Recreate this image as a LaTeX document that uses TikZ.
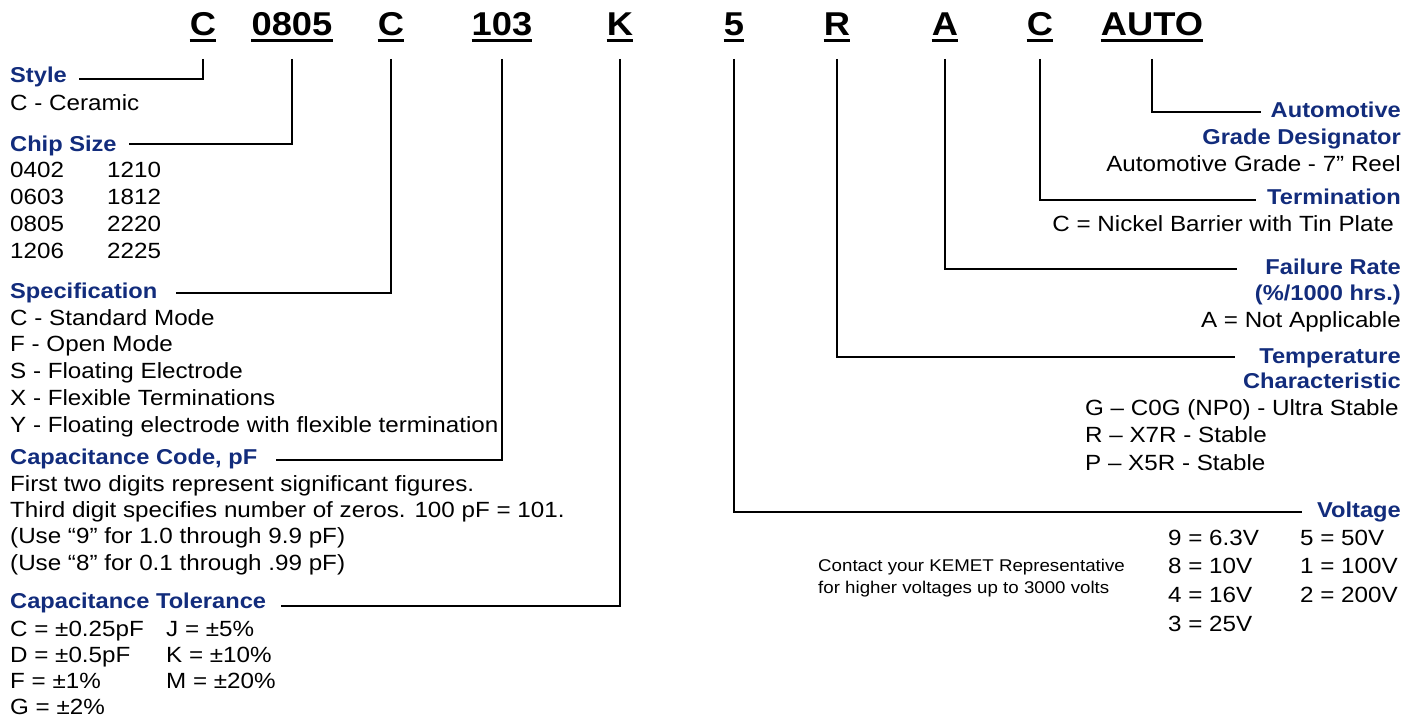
\documentclass[tikz,border=0pt]{standalone}
\usepackage{fontspec}
\setmainfont{Liberation Sans}[FakeStretch=1.1]
\definecolor{kemetblue}{RGB}{18,44,124}
\tikzset{
  codetxt/.style={font=\fontsize{33}{36}\selectfont\bfseries, inner sep=0pt, anchor=base},
  headtxt/.style={font=\fontsize{21.5}{26}\selectfont\bfseries, text=kemetblue, inner sep=0pt},
  bodytxt/.style={font=\fontsize{22}{27}\selectfont, inner sep=0pt, anchor=base west},
  notetxt/.style={font=\fontsize{17}{22}\selectfont, inner sep=0pt, anchor=base west},
  leaderline/.style={line width=2.4pt},
}

\begin{document}
\begin{tikzpicture}[x=1pt,y=-1pt]
    \useasboundingbox (0,0) rectangle (1420,719);

    % Part number
    \node[codetxt] (cStyle) at (203,36) {C};
    \node[codetxt] (cSize) at (292,36) {0805};
    \node[codetxt] (cSpec) at (391,36) {C};
    \node[codetxt] (cCap) at (502,36) {103};
    \node[codetxt] (cTol) at (620,36) {K};
    \node[codetxt] (cVolt) at (734,36) {5};
    \node[codetxt] (cTemp) at (837,36) {R};
    \node[codetxt] (cFail) at (945,36) {A};
    \node[codetxt] (cTerm) at (1040,36) {C};
    \node[codetxt] (cAuto) at (1152,36) {AUTO};
    \foreach \n in {cStyle,cSize,cSpec,cCap,cTol,cVolt,cTemp,cFail,cTerm,cAuto}
        \draw[line width=3pt] ([yshift=-5pt]\n.base west) -- ([yshift=-5pt]\n.base east);

    % Left side
    \node[headtxt, anchor=base west] (hStyle) at (10,83) {Style};
    \node[bodytxt] (bStyle) at (10,111) {C - Ceramic};

    \node[headtxt, anchor=base west] (hSize) at (10,152) {Chip Size};
    \foreach \t [count=\i from 0] in {0402,0603,0805,1206}
        \node[bodytxt] (bSizeA-\i) at (10,178+26.7*\i) {\t};
    \foreach \t [count=\i from 0] in {1210,1812,2220,2225}
        \node[bodytxt] (bSizeB-\i) at (107,178+26.7*\i) {\t};

    \node[headtxt, anchor=base west] (hSpec) at (10,298) {Specification};
    \foreach \t [count=\i from 0] in {C - Standard Mode, F - Open Mode, S - Floating Electrode,
        X - Flexible Terminations, Y - Floating electrode with flexible termination}
        \node[bodytxt] (bSpec-\i) at (10,325+26.75*\i) {\t};

    \node[headtxt, anchor=base west] (hCap) at (10,464) {Capacitance Code, pF};
    \foreach \t [count=\i from 0] in {First two digits represent significant figures.,
        Third digit specifies number of zeros. 100 pF = 101.,
        (Use “9” for 1.0 through 9.9 pF), (Use “8” for 0.1 through .99 pF)}
        \node[bodytxt] (bCap-\i) at (10,491+26.4*\i) {\t};

    \node[headtxt, anchor=base west] (hTol) at (10,608) {Capacitance Tolerance};
    \foreach \t [count=\i from 0] in {C = ±0.25pF, D = ±0.5pF, F = ±1\%, G = ±2\%}
        \node[bodytxt] (bTolA-\i) at (10,636+26.3*\i) {\t};
    \foreach \t [count=\i from 0] in {J = ±5\%, K = ±10\%, M = ±20\%}
        \node[bodytxt] (bTolB-\i) at (166,636+26.3*\i) {\t};

    % Right side
    \node[headtxt, anchor=base east] (hAuto) at (1401,118) {Automotive};
    \node[headtxt, anchor=base east] (hAuto2) at (1401,145) {Grade Designator};
    \node[bodytxt, anchor=base east] (bAuto) at (1401,172) {Automotive Grade - 7” Reel};

    \node[headtxt, anchor=base east] (hTerm) at (1401,205) {Termination};
    \node[bodytxt, anchor=base east] (bTerm) at (1394,232) {C = Nickel Barrier with Tin Plate};

    \node[headtxt, anchor=base east] (hFail) at (1401,274) {Failure Rate};
    \node[headtxt, anchor=base east] (hFail2) at (1401,300) {(\%/1000 hrs.)};
    \node[bodytxt, anchor=base east] (bFail) at (1401,327) {A = Not Applicable};

    \node[headtxt, anchor=base east] (hTemp) at (1401,363) {Temperature};
    \node[headtxt, anchor=base east] (hTemp2) at (1401,388) {Characteristic};
    \foreach \t [count=\i from 0] in {G – C0G (NP0) - Ultra Stable, R – X7R - Stable, P – X5R - Stable}
        \node[bodytxt] (bTemp-\i) at (1085,415+27.5*\i) {\t};

    \node[headtxt, anchor=base east] (hVolt) at (1401,517) {Voltage};
    \foreach \t [count=\i from 0] in {9 = 6.3V, 8 = 10V, 4 = 16V, 3 = 25V}
        \node[bodytxt] (bVoltA-\i) at (1168,545+28.7*\i) {\t};
    \foreach \t [count=\i from 0] in {5 = 50V, 1 = 100V, 2 = 200V}
        \node[bodytxt] (bVoltB-\i) at (1300,545+28.7*\i) {\t};
    \node[notetxt] (nVolt) at (818,571) {Contact your KEMET Representative};
    \node[notetxt] (nVolt2) at (818,593) {for higher voltages up to 3000 volts};

    % Leaders
    \draw[leaderline] ([yshift=-23pt]cStyle.base) |- ([xshift=12pt,yshift=4pt]hStyle.base east);
    \draw[leaderline] ([yshift=-23pt]cSize.base) |- ([xshift=12pt,yshift=8pt]hSize.base east);
    \draw[leaderline] ([yshift=-23pt]cSpec.base) |- ([xshift=18pt,yshift=5pt]hSpec.base east);
    \draw[leaderline] ([yshift=-23pt]cCap.base) |- ([xshift=19pt,yshift=4pt]hCap.base east);
    \draw[leaderline] ([yshift=-23pt]cTol.base) |- ([xshift=15pt,yshift=2pt]hTol.base east);
    \draw[leaderline] ([yshift=-23pt]cAuto.base) |- ([xshift=-10pt,yshift=6pt]hAuto.base west);
    \draw[leaderline] ([yshift=-23pt]cTerm.base) |- ([xshift=-11pt,yshift=5pt]hTerm.base west);
    \draw[leaderline] ([yshift=-23pt]cFail.base) |- ([xshift=-28pt,yshift=5pt]hFail.base west);
    \draw[leaderline] ([yshift=-23pt]cTemp.base) |- ([xshift=-24pt,yshift=6pt]hTemp.base west);
    \draw[leaderline] ([yshift=-23pt]cVolt.base) |- ([xshift=-15pt,yshift=5pt]hVolt.base west);
\end{tikzpicture}
\end{document}
